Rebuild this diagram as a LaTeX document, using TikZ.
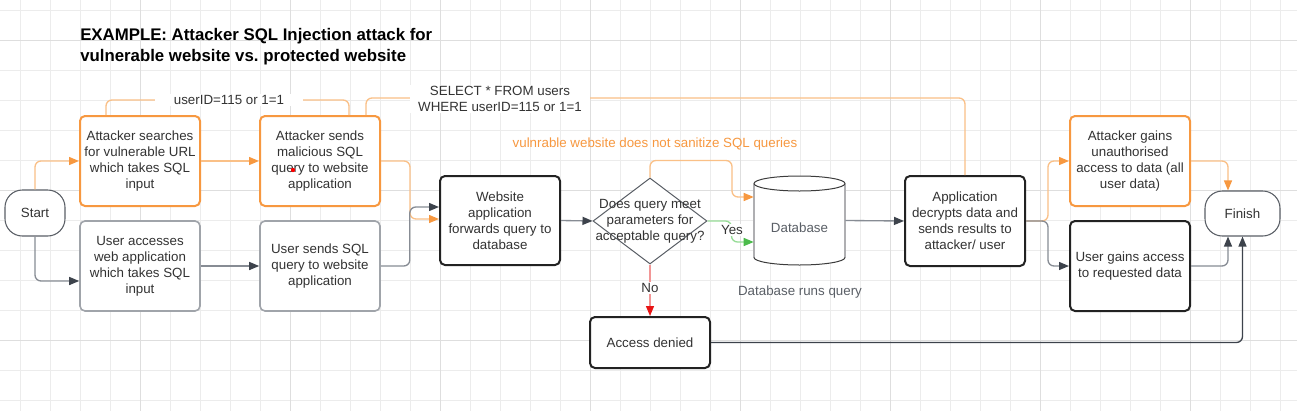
\documentclass[tikz,border=0pt]{standalone}
\usepackage{fontspec}
\setmainfont{Liberation Sans}
\usetikzlibrary{arrows.meta,shapes.geometric,calc}
\frenchspacing
\definecolor{org}{RGB}{247,152,64}
\definecolor{orgl}{RGB}{250,192,135}
\definecolor{txt}{RGB}{51,51,51}
\definecolor{dk}{RGB}{61,67,76}
\definecolor{dkl}{RGB}{135,140,148}
\definecolor{gbx}{RGB}{160,164,170}
\definecolor{kbx}{RGB}{34,34,34}
\definecolor{gridc}{RGB}{236,236,236}
\definecolor{gridm}{RGB}{222,222,222}
\definecolor{grn}{RGB}{76,187,76}
\definecolor{grnl}{RGB}{150,220,150}
\definecolor{rd}{RGB}{232,20,20}
\definecolor{rdl}{RGB}{242,150,150}
\definecolor{gtx}{RGB}{90,95,102}
\definecolor{cyls}{RGB}{175,175,178}
\definecolor{cylt}{RGB}{60,60,60}
\tikzset{
  box/.style={rectangle, rounded corners=3.75pt, minimum width=90pt, minimum height=67.5pt, align=center, inner sep=2pt, fill=white},
  obox/.style={box, draw=org, line width=1.5pt},
  gboxs/.style={box, draw=gbx, line width=1.2pt},
  kboxs/.style={box, draw=kbx, line width=1.5pt},
  term/.style={rectangle, rounded corners=13pt, draw=gtx, fill=white, line width=0.8pt, minimum height=34.5pt, align=center},
  tip/.style={-{Triangle[length=7.5pt,width=6pt,color=#1]}},
  oline/.style={draw=orgl, line width=1pt, rounded corners=4.5pt, tip=org},
  olineplain/.style={draw=orgl, line width=1pt, rounded corners=4.5pt},
  dline/.style={draw=dkl, line width=1pt, rounded corners=4.5pt, tip=dk},
  kline/.style={draw=dk, line width=1pt, rounded corners=4.5pt, tip=dk},
  gline/.style={draw=grnl, line width=1pt, rounded corners=4.5pt, tip=grn},
  rline/.style={draw=rdl, line width=1pt, tip=rd},
  lbl/.style={fill=white, inner sep=1pt, align=center},
}
\begin{document}
\begin{tikzpicture}[x=0.75pt, y=-0.75pt, font=\fontsize{10}{12}\selectfont, text=txt]
\useasboundingbox (0,0) rectangle (1297,411);
\fill[white] (0,0) rectangle (1297,411);
% grid
\foreach \gx in {20,50,...,1290} \draw[gridc, line width=0.75pt] (\gx,0) -- (\gx,411);
\foreach \gy in {10,40,...,410} \draw[gridc, line width=0.75pt] (0,\gy) -- (1297,\gy);
\foreach \gx in {140,290,...,1190} \draw[gridm, line width=0.75pt] (\gx,0) -- (\gx,411);
\foreach \gy in {40,190,340} \draw[gridm, line width=0.75pt] (0,\gy) -- (1297,\gy);

% title
\node[anchor=west, align=left, inner sep=0pt, text=black, font=\bfseries\fontsize{12.6}{15.75}\selectfont] (title) at (80,46.5) {EXAMPLE: Attacker SQL Injection attack for\\vulnerable website vs.\ protected website};

% nodes
\node[term, minimum width=45pt] (start) at (35,213) {Start};
\node[obox] (as) at (140,161) {Attacker searches\\for vulnerable URL\\which takes SQL\\input};
\node[gboxs] (ua) at (140,266) {User accesses\\web application\\which takes SQL\\input};
\node[obox] (asd) at (320,161) {Attacker sends\\malicious SQL\\query to website\\application};
\node[gboxs] (us) at (320,266) {User sends SQL\\query to website\\application};
\node[kboxs, minimum height=66.75pt] (web) at (500,220.5) {Website\\application\\forwards query to\\database};
\node[diamond, draw=gtx, fill=white, line width=0.75pt, minimum width=85.5pt, minimum height=64.5pt, inner sep=0pt] (dia) at (650,221) {};
\node[align=center, inner sep=0pt] (diatext) at (650,221) {Does query meet\\parameters for\\acceptable query?};
\node[rectangle, minimum width=68.25pt, minimum height=66.75pt, inner sep=0pt] (db) at (799.5,220.5) {};
\fill[white] (754,183.5) -- (754,257.5) arc[start angle=180, end angle=360, x radius=34.125pt, y radius=5.625pt] -- (845,183.5) arc[start angle=0, end angle=180, x radius=34.125pt, y radius=5.625pt] -- cycle;
\draw[cyls, line width=1.2pt] (754,183.5) -- (754,257.5);
\draw[cyls, line width=1.2pt] (845,183.5) -- (845,257.5);
\draw[cylt, line width=0.75pt] (754,257.5) arc[start angle=180, end angle=360, x radius=34.125pt, y radius=5.625pt];
\draw[cylt, line width=0.75pt] (799.5,183.5) ellipse[x radius=34.125pt, y radius=5.625pt];
\node[text=gtx, inner sep=0pt] (dbtext) at (799.5,228) {Database};
\node[text=gtx, inner sep=0pt] (dbruns) at (800,292) {Database runs query};
\node[kboxs] (app) at (965,221) {Application\\decrypts data and\\sends results to\\attacker/ user};
\node[obox] (ag) at (1130,161) {Attacker gains\\unauthorised\\access to data (all\\user data)};
\node[kboxs] (ug) at (1130,266) {User gains access\\to requested data};
\node[term, minimum width=56.25pt, minimum height=33.75pt] (fin) at (1242.5,213.5) {Finish};
\node[kboxs, minimum height=38.25pt] (ad) at (650,342.5) {Access denied};
\fill[red] (293,170) circle[radius=1.6pt];

% connectors
\draw[oline] (start.north) |- (as.west);
\draw[dline] (start.south) |- ($(ua.west)+(0,15)$);
\draw[oline] (as.east) -- (asd.west);
\draw[dline] (ua.east) -- (us.west);
\draw[oline] (asd.east) -- ++(29,0) |- ($(web.west)+(0,-1.5)$);
\draw[dline] (us.east) -- ++(29,0) |- ($(web.west)+(0,-13.5)$);
\draw[olineplain] ($(as.north)+(-34,0)$) -- ++(0,-15) -| ($(asd.north)+(29,0)$);
\node[lbl, inner xsep=14pt] (uidlbl) at (229,100) {userID=115 or 1=1};
\draw[olineplain] ($(asd.north)+(46,0)$) -- ++(0,-17) -| (app.north);
\node[lbl, inner xsep=6pt] (sellbl) at (500,99) {SELECT * FROM users\\WHERE userID=115 or 1=1};
\draw[dline] (web.east) -- (dia.west);
\draw[gline] (dia.east) -- ++(24,0) -- ++(0,21) -- ($(db.west)+(0,21.5)$);
\node[lbl] (yes) at (732,230) {Yes};
\draw[oline] (dia.north) -- ++(0,-17) -- ++(82,0) |- ($(db.west)+(0,-23.5)$);
\node[text=org, inner sep=0pt] (vuln) at (655,144) {vulnrable website does not sanitize SQL queries};
\draw[rline] (dia.south) -- (ad.north);
\node[lbl] (no) at (650,288) {No};
\draw[dline] (db.east) -- (app.west);
\draw[oline] (app.east) -- ++(22,0) |- (ag.west);
\draw[dline] (app.east) -- ++(22,0) |- (ug.west);
\draw[oline] (ag.east) -| ($(fin.north)+(-14.5,0)$);
\draw[dline] (ug.east) -| ($(fin.south)+(-14.5,0)$);
\draw[kline] (ad.east) -| (fin.south);
\end{tikzpicture}
\end{document}
